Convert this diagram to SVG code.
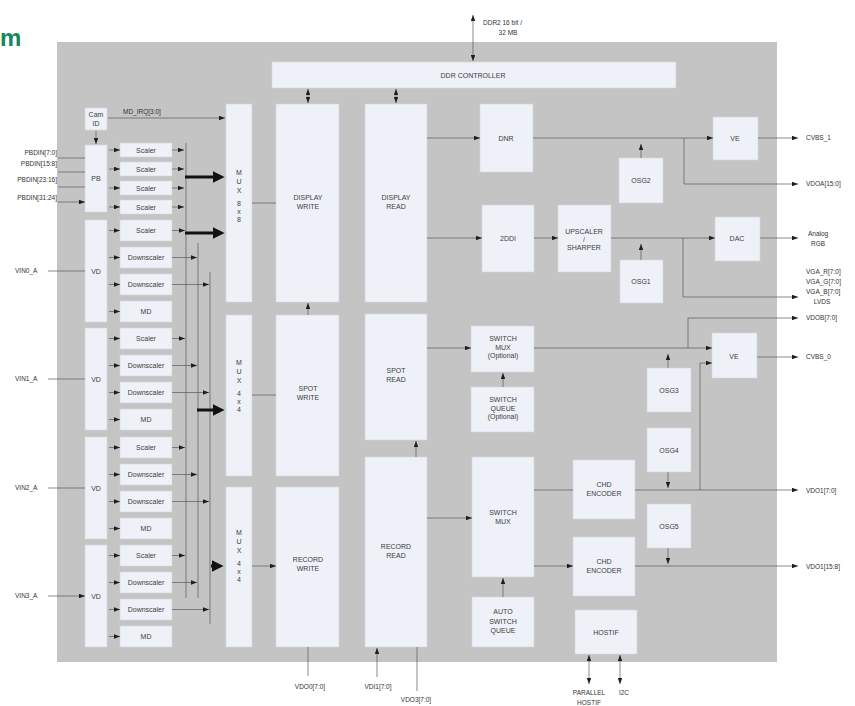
<svg xmlns="http://www.w3.org/2000/svg" width="855" height="706" viewBox="0 0 855 706">
<defs>
<marker id="ah" viewBox="0 0 8 6" refX="8" refY="3" markerWidth="6" markerHeight="4.5" markerUnits="userSpaceOnUse" orient="auto-start-reverse"><path d="M0,0L8,3L0,6z" fill="#1e1e1e"/></marker>
<marker id="big" viewBox="0 0 10 10" refX="2" refY="5" markerWidth="12" markerHeight="12" markerUnits="userSpaceOnUse" orient="auto"><path d="M0,0L10,5L0,10z" fill="#111"/></marker>
</defs>
<style>
.n{fill:#eef1f7;stroke:#d4d7de;stroke-width:0.6}
.t{font-family:"Liberation Sans",Arial,sans-serif;font-size:7px;fill:#404040;text-anchor:middle}
.l{font-family:"Liberation Sans",Arial,sans-serif;font-size:6.5px;fill:#333}
.e{text-anchor:end}
.m{text-anchor:middle}
.c{fill:none;stroke:#5a5a5a;stroke-width:0.7}
.a{marker-end:url(#ah)}
.b{marker-start:url(#ah);marker-end:url(#ah)}
.k{fill:none;stroke:#111;stroke-width:3;marker-end:url(#big)}
</style>
<rect width="855" height="706" fill="#ffffff"/>
<text x="0" y="46" font-family="Liberation Sans, Arial, sans-serif" font-size="24" font-weight="bold" fill="#13875a">m</text>
<rect id="panel" x="57" y="42" width="720" height="620" fill="#c4c4c4"/>

<g id="ddr"><rect class="n" x="272" y="62" width="404" height="26"/><text class="t" x="473" y="78" font-size="8">DDR CONTROLLER</text></g>
<g id="camid"><rect class="n" x="85" y="108" width="22" height="22"/><text class="t" x="96" y="117" font-size="6">Cam</text><text class="t" x="96" y="126" font-size="6">ID</text></g>
<g id="pb"><rect class="n" x="85" y="145" width="22" height="67"/><text class="t" x="96" y="181">PB</text></g>
<g id="pbs1"><rect class="n" x="120" y="143" width="52" height="14"/><text class="t" x="146" y="152.5">Scaler</text></g>
<g id="pbs2"><rect class="n" x="120" y="162" width="52" height="14"/><text class="t" x="146" y="171.5">Scaler</text></g>
<g id="pbs3"><rect class="n" x="120" y="181" width="52" height="14"/><text class="t" x="146" y="190.5">Scaler</text></g>
<g id="pbs4"><rect class="n" x="120" y="200" width="52" height="14"/><text class="t" x="146" y="209.5">Scaler</text></g>

<g id="vd0"><rect class="n" x="85" y="220" width="22" height="102"/><text class="t" x="96" y="273.5">VD</text></g>
<g id="vd0s"><rect class="n" x="120" y="220" width="52" height="21"/><text class="t" x="146" y="233">Scaler</text></g>
<g id="vd0d1"><rect class="n" x="120" y="247" width="52" height="21"/><text class="t" x="146" y="260">Downscaler</text></g>
<g id="vd0d2"><rect class="n" x="120" y="274" width="52" height="21"/><text class="t" x="146" y="287">Downscaler</text></g>
<g id="vd0md"><rect class="n" x="120" y="301" width="52" height="21"/><text class="t" x="146" y="314">MD</text></g>

<g id="vd1"><rect class="n" x="85" y="328" width="22" height="102"/><text class="t" x="96" y="381.5">VD</text></g>
<g id="vd1s"><rect class="n" x="120" y="328" width="52" height="21"/><text class="t" x="146" y="341">Scaler</text></g>
<g id="vd1d1"><rect class="n" x="120" y="355" width="52" height="21"/><text class="t" x="146" y="368">Downscaler</text></g>
<g id="vd1d2"><rect class="n" x="120" y="382" width="52" height="21"/><text class="t" x="146" y="395">Downscaler</text></g>
<g id="vd1md"><rect class="n" x="120" y="409" width="52" height="21"/><text class="t" x="146" y="422">MD</text></g>

<g id="vd2"><rect class="n" x="85" y="437" width="22" height="102"/><text class="t" x="96" y="490.5">VD</text></g>
<g id="vd2s"><rect class="n" x="120" y="437" width="52" height="21"/><text class="t" x="146" y="450">Scaler</text></g>
<g id="vd2d1"><rect class="n" x="120" y="464" width="52" height="21"/><text class="t" x="146" y="477">Downscaler</text></g>
<g id="vd2d2"><rect class="n" x="120" y="491" width="52" height="21"/><text class="t" x="146" y="504">Downscaler</text></g>
<g id="vd2md"><rect class="n" x="120" y="518" width="52" height="21"/><text class="t" x="146" y="531">MD</text></g>

<g id="vd3"><rect class="n" x="85" y="545" width="22" height="102"/><text class="t" x="96" y="598.5">VD</text></g>
<g id="vd3s"><rect class="n" x="120" y="545" width="52" height="21"/><text class="t" x="146" y="558">Scaler</text></g>
<g id="vd3d1"><rect class="n" x="120" y="572" width="52" height="21"/><text class="t" x="146" y="585">Downscaler</text></g>
<g id="vd3d2"><rect class="n" x="120" y="599" width="52" height="21"/><text class="t" x="146" y="612">Downscaler</text></g>
<g id="vd3md"><rect class="n" x="120" y="626" width="52" height="21"/><text class="t" x="146" y="639">MD</text></g>

<g id="mux1"><rect class="n" x="226" y="104" width="26" height="198"/><text class="t" x="239" y="175"><tspan x="239">M</tspan><tspan x="239" dy="9">U</tspan><tspan x="239" dy="9">X</tspan><tspan x="239" dy="13">8</tspan><tspan x="239" dy="8">x</tspan><tspan x="239" dy="8">8</tspan></text></g>
<g id="mux2"><rect class="n" x="226" y="315" width="26" height="161"/><text class="t" x="239" y="365"><tspan x="239">M</tspan><tspan x="239" dy="9">U</tspan><tspan x="239" dy="9">X</tspan><tspan x="239" dy="13">4</tspan><tspan x="239" dy="8">x</tspan><tspan x="239" dy="8">4</tspan></text></g>
<g id="mux3"><rect class="n" x="226" y="487" width="26" height="160"/><text class="t" x="239" y="535"><tspan x="239">M</tspan><tspan x="239" dy="9">U</tspan><tspan x="239" dy="9">X</tspan><tspan x="239" dy="13">4</tspan><tspan x="239" dy="8">x</tspan><tspan x="239" dy="8">4</tspan></text></g>

<g id="dispwrite"><rect class="n" x="276" y="104" width="63" height="198"/><text class="t" x="308" y="200">DISPLAY<tspan x="308" dy="9">WRITE</tspan></text></g>
<g id="spotwrite"><rect class="n" x="276" y="315" width="63" height="161"/><text class="t" x="308" y="391">SPOT<tspan x="308" dy="9">WRITE</tspan></text></g>
<g id="recwrite"><rect class="n" x="276" y="487" width="63" height="160"/><text class="t" x="308" y="562">RECORD<tspan x="308" dy="9">WRITE</tspan></text></g>
<g id="dispread"><rect class="n" x="365" y="104" width="62" height="198"/><text class="t" x="396" y="200">DISPLAY<tspan x="396" dy="9">READ</tspan></text></g>
<g id="spotread"><rect class="n" x="365" y="314" width="62" height="126"/><text class="t" x="396" y="373">SPOT<tspan x="396" dy="9">READ</tspan></text></g>
<g id="recread"><rect class="n" x="365" y="457" width="62" height="190"/><text class="t" x="396" y="549">RECORD<tspan x="396" dy="9">READ</tspan></text></g>

<g id="dnr"><rect class="n" x="480" y="104" width="53" height="68"/><text class="t" x="506" y="140.5">DNR</text></g>
<g id="ddi"><rect class="n" x="482" y="205" width="52" height="67"/><text class="t" x="508" y="241">2DDI</text></g>
<g id="upscaler"><rect class="n" x="558" y="205" width="53" height="67"/><text class="t" x="584" y="234">UPSCALER<tspan x="584" dy="8">/</tspan><tspan x="584" dy="8">SHARPER</tspan></text></g>
<g id="osg2"><rect class="n" x="619" y="158" width="44" height="45"/><text class="t" x="641" y="183">OSG2</text></g>
<g id="osg1"><rect class="n" x="620" y="260" width="43" height="43"/><text class="t" x="641" y="284">OSG1</text></g>
<g id="ve1"><rect class="n" x="713" y="117" width="45" height="43"/><text class="t" x="735" y="140.5">VE</text></g>
<g id="dac"><rect class="n" x="715" y="217" width="45" height="44"/><text class="t" x="737" y="241">DAC</text></g>

<g id="swmuxopt"><rect class="n" x="471" y="326" width="63" height="46"/><text class="t" x="503" y="341">SWITCH<tspan x="503" dy="8.5">MUX</tspan><tspan x="503" dy="8.5">(Optional)</tspan></text></g>
<g id="swqueue"><rect class="n" x="471" y="387" width="63" height="45"/><text class="t" x="503" y="402">SWITCH<tspan x="503" dy="8.5">QUEUE</tspan><tspan x="503" dy="8.5">(Optional)</tspan></text></g>
<g id="swmux"><rect class="n" x="472" y="457" width="62" height="120"/><text class="t" x="503" y="515">SWITCH<tspan x="503" dy="9">MUX</tspan></text></g>
<g id="autoq"><rect class="n" x="472" y="597" width="62" height="50"/><text class="t" x="503" y="614">AUTO<tspan x="503" dy="9.5">SWITCH</tspan><tspan x="503" dy="9.5">QUEUE</tspan></text></g>
<g id="chd1"><rect class="n" x="573" y="460" width="62" height="59"/><text class="t" x="604" y="487">CHD<tspan x="604" dy="9">ENCODER</tspan></text></g>
<g id="chd2"><rect class="n" x="573" y="537" width="62" height="59"/><text class="t" x="604" y="564">CHD<tspan x="604" dy="9">ENCODER</tspan></text></g>
<g id="hostif"><rect class="n" x="575" y="610" width="62" height="44"/><text class="t" x="606" y="634.5">HOSTIF</text></g>
<g id="ve2"><rect class="n" x="712" y="333" width="45" height="45"/><text class="t" x="734" y="358.5">VE</text></g>
<g id="osg3"><rect class="n" x="647" y="368" width="44" height="44"/><text class="t" x="669" y="392.5">OSG3</text></g>
<g id="osg4"><rect class="n" x="647" y="428" width="44" height="44"/><text class="t" x="669" y="452.5">OSG4</text></g>
<g id="osg5"><rect class="n" x="647" y="504" width="44" height="44"/><text class="t" x="669" y="528.5">OSG5</text></g>

<g id="connectors">
<path class="c b" d="M473,15V61"/>
<path class="c b" d="M308,89V103"/>
<path class="c b" d="M396,89V103"/>
<path class="c a" d="M96,131V144"/>
<path class="c a" d="M108,118H225"/>
<path class="c a" d="M58,158H85M58,172H85M58,187H85M58,202H85"/>
<path class="c a" d="M48,271H85M48,379H85M48,488H85M48,596H85"/>
<g class="c a">
<path d="M109,150H120"/><path d="M109,169H120"/><path d="M109,188H120"/><path d="M109,207H120"/>
<path d="M109,230.5H120"/><path d="M109,257.5H120"/><path d="M109,284.5H120"/><path d="M109,311.5H120"/>
<path d="M109,338.5H120"/><path d="M109,365.5H120"/><path d="M109,392.5H120"/><path d="M109,419.5H120"/>
<path d="M109,447.5H120"/><path d="M109,474.5H120"/><path d="M109,501.5H120"/><path d="M109,528.5H120"/>
<path d="M109,555.5H120"/><path d="M109,582.5H120"/><path d="M109,609.5H120"/><path d="M109,636.5H120"/>
<path d="M172,150H184"/><path d="M172,169H184"/><path d="M172,188H184"/><path d="M172,207H184"/>
<path d="M172,230.5H185"/><path d="M172,338.5H185"/><path d="M172,447.5H185"/><path d="M172,555.5H185"/>
<path d="M172,257.5H197"/><path d="M172,365.5H197"/><path d="M172,474.5H197"/><path d="M172,582.5H197"/>
<path d="M172,284.5H209"/><path d="M172,392.5H209"/><path d="M172,501.5H209"/><path d="M172,609.5H209"/>
</g>
<path class="c" d="M186,143V598M198,243V598M210,272V624"/>
<path class="k" d="M185,177H215"/>
<path class="k" d="M185,233H215"/>
<path class="k" d="M197,410H215"/>
<path class="k" d="M211,566H214"/>
<path class="c a" d="M252,203H276M252,395H276M252,566H276"/>
<path class="c a" d="M308,315V303"/>
<path class="c a" d="M416,457V441"/>
<path class="c a" d="M427,138H480"/>
<path class="c a" d="M427,238H482"/>
<path class="c a" d="M534,238H558"/>
<path class="c a" d="M533,138H713"/>
<path class="c a" d="M641,158V144"/>
<path class="c a" d="M684,138V184H798"/>
<path class="c a" d="M758,138H798"/>
<path class="c a" d="M611,238H715"/>
<path class="c a" d="M641,260V244"/>
<path class="c a" d="M683,238V297H798"/>
<path class="c a" d="M760,238H798"/>
<path class="c a" d="M427,348H471"/>
<path class="c a" d="M503,387V373"/>
<path class="c a" d="M534,348H712"/>
<path class="c a" d="M688,348V318H798"/>
<path class="c a" d="M668,368V354"/>
<path class="c a" d="M700,490V363H712"/>
<path class="c a" d="M757,357H798"/>
<path class="c a" d="M427,518H472"/>
<path class="c a" d="M503,597V578"/>
<path class="c a" d="M534,490H573M534,566H573"/>
<path class="c a" d="M635,490H798"/>
<path class="c a" d="M635,566H798"/>
<path class="c a" d="M668,472V488"/>
<path class="c a" d="M668,548V564"/>
<path class="c b" d="M589,655V684"/>
<path class="c b" d="M620,655V684"/>
<path class="c" d="M308,647V676"/>
<path class="c a" d="M377,677V648"/>
<path class="c" d="M417,647V691"/>
</g>

<g id="labels">
<text class="l" x="483" y="25">DDR2 16 bit /</text>
<text class="l m" x="508" y="35">32 MB</text>
<text class="l" x="123" y="114">MD_IRQ[3:0]</text>
<text class="l e" x="57" y="155">PBDIN[7:0]</text>
<text class="l e" x="57" y="166">PBDIN[15:8]</text>
<text class="l e" x="57" y="182">PBDIN[23:16]</text>
<text class="l e" x="57" y="200">PBDIN[31:24]</text>
<text class="l" x="15" y="273">VIN0_A</text>
<text class="l" x="15" y="381">VIN1_A</text>
<text class="l" x="15" y="490">VIN2_A</text>
<text class="l" x="15" y="598">VIN3_A</text>
<text class="l" x="806" y="140">CVBS_1</text>
<text class="l" x="806" y="186">VDOA[15:0]</text>
<text class="l" x="808" y="236">Analog</text>
<text class="l" x="811" y="246">RGB</text>
<text class="l" x="806" y="274">VGA_R[7:0]</text>
<text class="l" x="806" y="284">VGA_G[7:0]</text>
<text class="l" x="806" y="294">VGA_B[7:0]</text>
<text class="l m" x="822" y="304">LVDS</text>
<text class="l" x="806" y="320">VDOB[7:0]</text>
<text class="l" x="806" y="359">CVBS_0</text>
<text class="l" x="806" y="493">VDO1[7:0]</text>
<text class="l" x="806" y="569">VDO1[15:8]</text>
<text class="l m" x="310" y="689">VDO0[7:0]</text>
<text class="l m" x="378" y="689">VDI1[7:0]</text>
<text class="l m" x="416" y="702">VDO3[7:0]</text>
<text class="l m" x="589" y="695">PARALLEL</text>
<text class="l m" x="589" y="705">HOSTIF</text>
<text class="l m" x="624" y="695">I2C</text>
</g>
</svg>
